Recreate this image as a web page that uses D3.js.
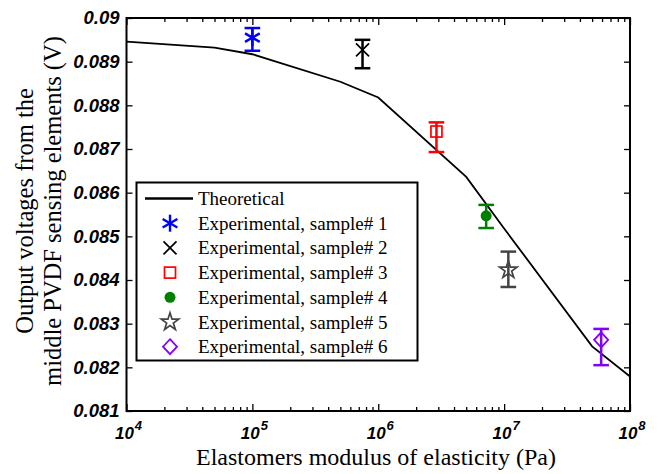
<!DOCTYPE html>
<html>
<head>
<meta charset="utf-8">
<script src="https://cdn.jsdelivr.net/npm/d3@7"></script>
<style>
  body { margin: 0; background: #fff; }
  svg { display: block; }
</style>
</head>
<body>
<script>
// theoretical curve
const theoE = [1e4, 5e4, 1e5, 5e5, 1e6, 5e6, 1e7, 5e7, 1e8];
const theoV = [0.08946, 0.08932, 0.08917, 0.08854, 0.08818, 0.08636, 0.08518, 0.08248, 0.08179];

// experimental samples
const sampleNames = ['Experimental, sample# 1', 'Experimental, sample# 2', 'Experimental, sample# 3',
  'Experimental, sample# 4', 'Experimental, sample# 5', 'Experimental, sample# 6'];
const sampleE = [1e5, 7.5e5, 2.9e6, 7.2e6, 1.08e7, 5.9e7];
const sampleV = [0.08955, 0.08927, 0.0874, 0.08547, 0.08423, 0.08263];
const sampleHi = [0.08977, 0.0895, 0.08761, 0.08572, 0.08465, 0.08288];
const sampleLo = [0.08925, 0.08885, 0.08693, 0.08519, 0.08384, 0.08205];
const sampleColors = ['#0000ff', '#000000', '#ff0000', '#008000', '#444444', '#8000ff'];
const sampleMarkers = ['asterisk', 'cross', 'square', 'dot', 'star', 'diamond'];

const yTicks = [0.081, 0.082, 0.083, 0.084, 0.085, 0.086, 0.087, 0.088, 0.089, 0.09];
const yTickLabels = ['0.081', '0.082', '0.083', '0.084', '0.085', '0.086', '0.087', '0.088', '0.089', '0.09'];
const xDecades = [4, 5, 6, 7, 8];

const W = 658, H = 474;
const mLeft = 126.5, mRight = 630, mTop = 18, mBottom = 411;

const svg = d3.select('body').append('svg')
  .attr('width', W).attr('height', H);

const x = d3.scaleLog().domain([1e4, 1e8]).range([mLeft, mRight]);
const y = d3.scaleLinear().domain([0.081, 0.09]).range([mBottom, mTop]);

// minor ticks on log axis
const minor = [];
xDecades.slice(0, -1).forEach(d => {
  for (let k = 2; k <= 9; k++) minor.push(k * Math.pow(10, d));
});

const tickFont = 'Liberation Sans, Arial, sans-serif';
const serif = 'Liberation Serif, Times New Roman, serif';

// x axis bottom and top, ticks inside
svg.append('g')
  .attr('transform', `translate(0,${mBottom})`)
  .call(d3.axisBottom(x).tickValues(minor).tickSize(-4).tickFormat(''))
  .call(g => g.select('.domain').remove());
svg.append('g')
  .attr('transform', `translate(0,${mBottom})`)
  .call(d3.axisBottom(x).tickValues(xDecades.map(d => Math.pow(10, d))).tickSize(-7).tickFormat(''))
  .call(g => g.select('.domain').remove());
svg.append('g')
  .attr('transform', `translate(0,${mTop})`)
  .call(d3.axisTop(x).tickValues(minor).tickSize(-4).tickFormat(''))
  .call(g => g.select('.domain').remove());
svg.append('g')
  .attr('transform', `translate(0,${mTop})`)
  .call(d3.axisTop(x).tickValues(xDecades.map(d => Math.pow(10, d))).tickSize(-7).tickFormat(''))
  .call(g => g.select('.domain').remove());

// y axis left and right
svg.append('g')
  .attr('transform', `translate(${mLeft},0)`)
  .call(d3.axisLeft(y).tickValues(yTicks).tickSize(-6).tickPadding(7).tickFormat((d, i) => yTickLabels[i]))
  .call(g => g.select('.domain').remove())
  .call(g => g.selectAll('text')
    .attr('font-family', tickFont).attr('font-size', 18.5)
    .attr('font-weight', 'bold').attr('font-style', 'italic').attr('fill', '#000'));
svg.append('g')
  .attr('transform', `translate(${mRight},0)`)
  .call(d3.axisRight(y).tickValues(yTicks).tickSize(-6).tickFormat(''))
  .call(g => g.select('.domain').remove());

svg.selectAll('.tick line').attr('stroke', '#000').attr('stroke-width', 1.3);

// x tick labels 10^n
const xl = svg.append('g');
xDecades.forEach(d => {
  const t = xl.append('text')
    .attr('x', x(Math.pow(10, d)) + 2).attr('y', mBottom + 28)
    .attr('text-anchor', 'middle')
    .attr('font-family', tickFont).attr('font-weight', 'bold').attr('font-style', 'italic')
    .attr('font-size', 17);
  t.append('tspan').text('10');
  t.append('tspan').attr('dx', 1).attr('dy', -9).attr('font-size', 13).text(d);
});

// frame
svg.append('rect')
  .attr('x', mLeft).attr('y', mTop)
  .attr('width', mRight - mLeft).attr('height', mBottom - mTop)
  .attr('fill', 'none').attr('stroke', '#000').attr('stroke-width', 2);

// theoretical line
const line = d3.line().x((d, i) => x(theoE[i])).y(d => y(d));
svg.append('path')
  .datum(theoV)
  .attr('d', line)
  .attr('fill', 'none').attr('stroke', '#000').attr('stroke-width', 1.8);

function marker(g, type, color) {
  if (type === 'asterisk') {
    [0, 60, 120].forEach(a => {
      g.append('line').attr('x1', 0).attr('y1', -8.5).attr('x2', 0).attr('y2', 8.5)
        .attr('transform', `rotate(${a})`)
        .attr('stroke', color).attr('stroke-width', 2.4);
    });
  } else if (type === 'cross') {
    g.append('path').attr('d', 'M-6.5,-6.5L6.5,6.5M-6.5,6.5L6.5,-6.5')
      .attr('stroke', color).attr('stroke-width', 1.7).attr('fill', 'none');
  } else if (type === 'square') {
    g.append('rect').attr('x', -5.5).attr('y', -5.5).attr('width', 11).attr('height', 11)
      .attr('fill', 'none').attr('stroke', color).attr('stroke-width', 1.7);
  } else if (type === 'dot') {
    g.append('circle').attr('r', 5.5).attr('fill', color);
  } else if (type === 'star') {
    g.append('path').attr('d', d3.symbol(d3.symbolStar, 95)())
      .attr('fill', 'none').attr('stroke', color).attr('stroke-width', 1.7);
  } else if (type === 'diamond') {
    g.append('path').attr('d', 'M0,-7.5L7,0L0,7.5L-7,0Z')
      .attr('fill', 'none').attr('stroke', color).attr('stroke-width', 1.8);
  }
}

// error bars + markers
sampleE.forEach((e, i) => {
  const cx = x(e), c = sampleColors[i];
  const g = svg.append('g');
  g.append('line').attr('x1', cx).attr('x2', cx)
    .attr('y1', y(sampleHi[i])).attr('y2', y(sampleLo[i]))
    .attr('stroke', c).attr('stroke-width', 2.5);
  [sampleHi[i], sampleLo[i]].forEach(v => {
    g.append('line').attr('x1', cx - 7.8).attr('x2', cx + 7.8)
      .attr('y1', y(v)).attr('y2', y(v))
      .attr('stroke', c).attr('stroke-width', 2.5);
  });
  marker(g.append('g').attr('transform', `translate(${cx},${y(sampleV[i])})`), sampleMarkers[i], c);
});

// legend
const lg = svg.append('g');
lg.append('rect')
  .attr('x', 136.5).attr('y', 182.5).attr('width', 281).attr('height', 178)
  .attr('fill', '#fff').attr('stroke', '#000').attr('stroke-width', 2);
const rowY = i => 198.5 + i * 24.7;
lg.append('line').attr('x1', 145).attr('x2', 193).attr('y1', rowY(0)).attr('y2', rowY(0))
  .attr('stroke', '#000').attr('stroke-width', 2.5);
const legendNames = ['Theoretical'].concat(sampleNames);
legendNames.forEach((n, i) => {
  lg.append('text').attr('x', 198).attr('y', rowY(i) + 6.5)
    .attr('font-family', serif).attr('font-size', 19).attr('fill', '#000')
    .text(n);
  if (i > 0) marker(lg.append('g').attr('transform', `translate(170,${rowY(i)})`), sampleMarkers[i - 1], sampleColors[i - 1]);
});

// axis titles
svg.append('text')
  .attr('x', 376).attr('y', 465)
  .attr('text-anchor', 'middle')
  .attr('font-family', serif).attr('font-size', 24)
  .text('Elastomers modulus of elasticity (Pa)');
const yt = svg.append('text')
  .attr('transform', `translate(0,211) rotate(-90)`)
  .attr('text-anchor', 'middle')
  .attr('font-family', serif).attr('font-size', 24.5);
yt.append('tspan').attr('x', 0).attr('y', 33).text('Output voltages from the');
yt.append('tspan').attr('x', 0).attr('y', 61).text('middle PVDF sensing elements (V)');
</script>
</body>
</html>
